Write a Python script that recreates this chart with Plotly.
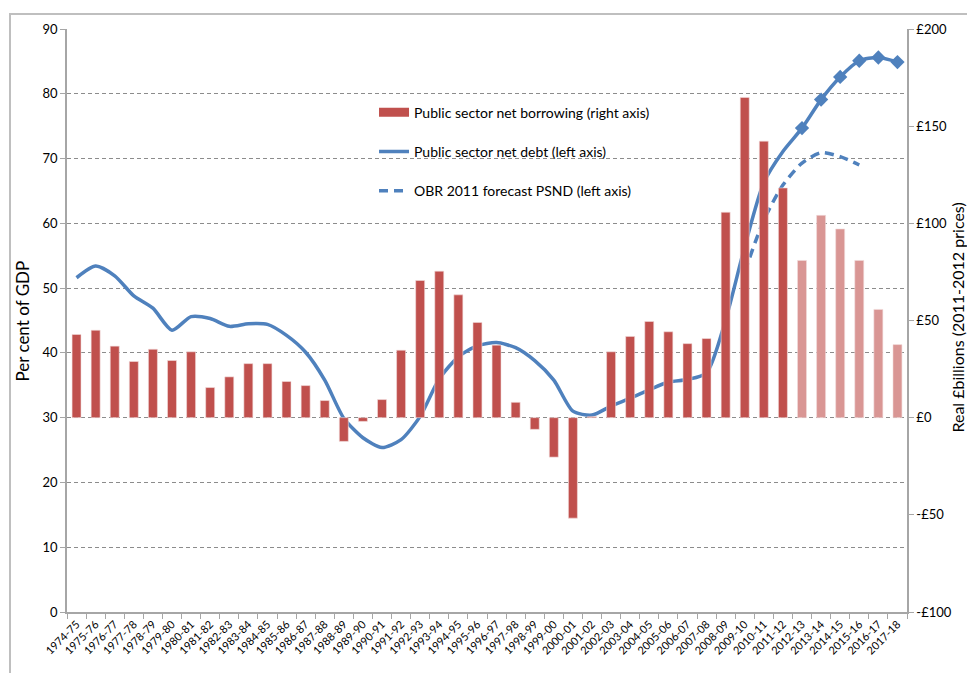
import plotly.graph_objects as go

years = ["1974-75","1975-76","1976-77","1977-78","1978-79","1979-80","1980-81","1981-82",
         "1982-83","1983-84","1984-85","1985-86","1986-87","1987-88","1988-89","1989-90",
         "1990-91","1991-92","1992-93","1993-94","1994-95","1995-96","1996-97","1997-98",
         "1998-99","1999-00","2000-01","2001-02","2002-03","2003-04","2004-05","2005-06",
         "2006-07","2007-08","2008-09","2009-10","2010-11","2011-12","2012-13","2013-14",
         "2014-15","2015-16","2016-17","2017-18"]

# Public sector net borrowing, real £bn (right axis)
psnb = [42.8, 45.0, 36.8, 28.9, 35.2, 29.4, 33.9, 15.5, 21.0, 27.8, 27.8, 18.6, 16.5, 8.8,
        -12.2, -1.9, 9.3, 34.7, 70.6, 75.4, 63.2, 49.0, 37.3, 7.9, -6.0, -20.3, -51.7, 0.5,
        33.9, 41.8, 49.5, 44.2, 38.1, 40.7, 105.7, 164.8, 142.3, 118.2, 80.9, 104.1, 97.1,
        80.9, 55.7, 37.6]
forecast_flag = [False]*38 + [True]*6

# Public sector net debt, % of GDP (left axis)
psnd = [51.6, 53.4, 51.9, 48.8, 46.9, 43.5, 45.6, 45.3, 44.1, 44.5, 44.4, 42.7, 40.1, 35.8,
        29.9, 26.9, 25.4, 26.6, 30.2, 36.0, 39.4, 41.1, 41.6, 40.8, 38.8, 35.8, 31.0, 30.4,
        31.8, 33.0, 34.3, 35.5, 35.9, 36.9, 45.1, 56.4, 66.3, 71.1, 74.7, 79.1, 82.6, 85.1,
        85.6, 84.9]

# OBR 2011 forecast PSND, % of GDP (left axis)
obr_years = ["2009-10","2010-11","2011-12","2012-13","2013-14","2014-15","2015-16"]
obr_psnd = [52.5, 60.5, 65.9, 69.3, 70.9, 70.3, 69.0]

left_ticks = [0, 10, 20, 30, 40, 50, 60, 70, 80, 90]
right_ticks = [-100, -50, 0, 50, 100, 150, 200]
right_labels = ["-£100", "-£50", "£0", "£50", "£100", "£150", "£200"]

DARK = "#C0504D"
LIGHT = "#D99694"
BLUE = "#4F81BD"
FONT = "Lato"
BAR_NAME = "Public sector net borrowing (right axis)"

fig = go.Figure()

fig.add_trace(go.Bar(
    x=years, y=psnb, yaxis="y2", name=BAR_NAME,
    marker=dict(color=[LIGHT if f else DARK for f in forecast_flag],
                line=dict(color="#F2DCDB", width=0.6)),
    legendgroup="a", showlegend=False,
))
# legend proxy giving the wide rectangular swatch of the original legend
fig.add_trace(go.Scatter(
    x=[years[0]], y=[None], mode="lines", name=BAR_NAME, yaxis="y2",
    line=dict(color=DARK, width=9), legendgroup="a", legendrank=1, hoverinfo="skip",
))
fig.add_trace(go.Scatter(
    x=years, y=psnd, mode="lines", name="Public sector net debt (left axis)",
    line=dict(color=BLUE, width=3.5, shape="spline", smoothing=0.7),
    legendgroup="b", legendrank=2,
))
mk_idx = [i for i, f in enumerate(forecast_flag) if f]
fig.add_trace(go.Scatter(
    x=[years[i] for i in mk_idx], y=[psnd[i] for i in mk_idx], mode="markers",
    marker=dict(symbol="diamond", size=11, color=BLUE), showlegend=False,
))
fig.add_trace(go.Scatter(
    x=obr_years, y=obr_psnd, mode="lines", name="OBR 2011 forecast PSND (left axis)",
    line=dict(color=BLUE, width=3.5, shape="spline", smoothing=0.7, dash="9px,6px"),
    legendgroup="c", legendrank=3,
))

fig.update_layout(
    width=967, height=665,
    margin=dict(l=59, r=68, t=21, b=61),
    paper_bgcolor="white", plot_bgcolor="white",
    font=dict(family=FONT, size=13, color="#000"),
    bargap=0.53,
    showlegend=True,
    legend=dict(x=0.3655, y=0.884, xanchor="left", yanchor="top",
                bgcolor="rgba(0,0,0,0)", font=dict(size=14, family=FONT),
                traceorder="grouped", tracegroupgap=18, itemwidth=30),
    xaxis=dict(type="category", categoryorder="array", categoryarray=years,
               tickangle=-45, tickfont=dict(size=11), showgrid=False,
               showline=True, linecolor="#A6A6A6", linewidth=1.5,
               ticks="outside", ticklen=5, tickcolor="#A6A6A6", tickson="boundaries",
               range=[-0.5, len(years) - 0.5]),
    yaxis=dict(range=[0, 90], tickvals=left_ticks, showline=True, linecolor="#A6A6A6",
               linewidth=1.5, ticks="outside", ticklen=5, tickcolor="#A6A6A6",
               showgrid=True, gridcolor="#8C8C8C", griddash="4px,3px", gridwidth=1,
               zeroline=False, tickfont=dict(size=13)),
    yaxis2=dict(range=[-100, 200], tickvals=right_ticks, ticktext=right_labels,
                overlaying="y", side="right", showline=True, linecolor="#A6A6A6",
                linewidth=1.5, ticks="outside", ticklen=5, tickcolor="#A6A6A6",
                showgrid=False, zeroline=False, tickfont=dict(size=13)),
    annotations=[
        dict(text="Per cent of GDP", x=-0.0524, y=0.5, xref="paper", yref="paper",
             textangle=-90, showarrow=False, font=dict(size=17, family=FONT),
             xanchor="center", yanchor="middle"),
        dict(text="Real £billions (2011-2012 prices)", x=1.0607, y=0.505,
             xref="paper", yref="paper", textangle=-90, showarrow=False,
             font=dict(size=16, family=FONT), xanchor="center", yanchor="middle"),
    ],
    shapes=[
        dict(type="rect", xref="paper", yref="paper", x0=(10 - 67) / 840, x1=1.2,
             y0=-0.3, y1=(612 - 14) / 583, line=dict(color="#BFBFBF", width=2),
             layer="below"),
    ],
)

fig.write_html("out.html")
